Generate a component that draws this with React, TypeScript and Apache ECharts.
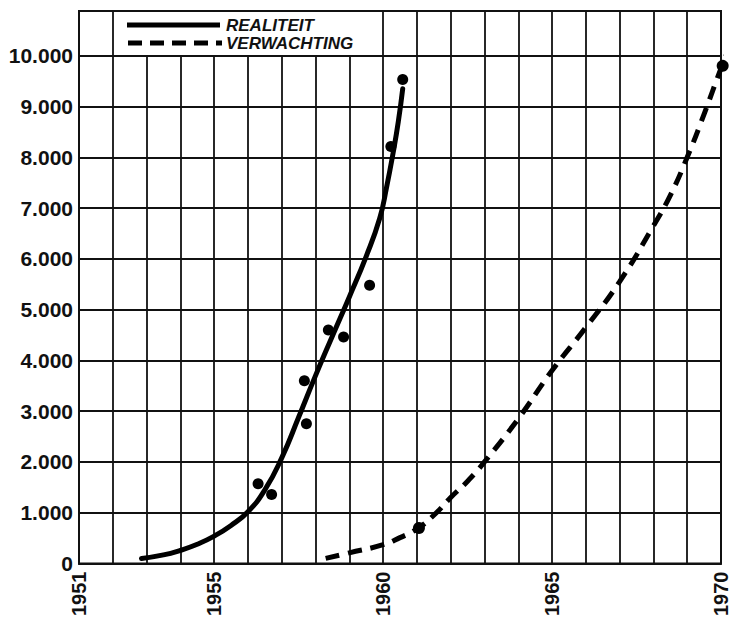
import React, { useEffect, useRef } from "react";
import * as echarts from "echarts";

// Realiteit (smoothed curve)
const realYears = [1952.85, 1953.5, 1954, 1954.5, 1955, 1955.5, 1956, 1956.5, 1957, 1957.5, 1958, 1958.5, 1959, 1959.5, 1959.9, 1960.1, 1960.3, 1960.45, 1960.58];
const realValues = [100, 170, 260, 380, 540, 750, 1020, 1450, 2080, 2880, 3700, 4480, 5250, 6050, 6800, 7400, 8100, 8700, 9350];

// Realiteit observed points
const realDotYears = [1956.3, 1956.7, 1957.67, 1957.73, 1958.38, 1958.83, 1959.6, 1960.23, 1960.58];
const realDotValues = [1570, 1360, 3600, 2750, 4600, 4460, 5480, 8210, 9530];

// Verwachting (expected, dashed curve)
const expYears = [1958.3, 1959, 1960, 1960.5, 1961, 1961.5, 1962, 1962.5, 1963, 1964, 1965, 1966, 1967, 1968, 1968.5, 1969, 1969.5, 1970, 1970.35];
const expValues = [100, 210, 370, 510, 680, 950, 1300, 1620, 2000, 2850, 3800, 4650, 5550, 6650, 7250, 8000, 8850, 9750, 10330];

const expDotYears = [1961.06, 1970.05];
const expDotValues = [700, 9800];

const xTickLabels = [1951, 1955, 1960, 1965, 1970];
const yTickLabels = ["0", "1.000", "2.000", "3.000", "4.000", "5.000", "6.000", "7.000", "8.000", "9.000", "10.000"];
const legendNames = ["REALITEIT", "VERWACHTING"];

const FONT = '"Liberation Sans", Arial, sans-serif';

const pairs = (xs: number[], ys: number[]) => xs.map((x, i) => [x, ys[i]]);

export default function App() {
  const ref = useRef<HTMLDivElement>(null);
  useEffect(() => {
    if (!ref.current) return;
    const chart = echarts.init(ref.current, undefined, { renderer: "svg" });
    const legendText = {
      fill: "#111",
      fontFamily: FONT,
      fontSize: 17,
      fontStyle: "italic",
      fontWeight: "bold",
      verticalAlign: "middle",
      align: "left",
    };
    chart.setOption({
      animation: false,
      backgroundColor: "#fff",
      grid: {
        left: 79,
        right: 10,
        top: 11,
        bottom: 53,
        show: true,
        borderColor: "#111",
        borderWidth: 2,
        backgroundColor: "transparent",
      },
      graphic: [
        {
          type: "rect",
          z: 1,
          shape: { x: 115, y: 12, width: 266, height: 43 },
          style: { fill: "#fff" },
        },
        {
          type: "line",
          z: 5,
          shape: { x1: 127, y1: 25, x2: 220, y2: 25 },
          style: { stroke: "#000", lineWidth: 5 },
        },
        {
          type: "line",
          z: 5,
          shape: { x1: 128, y1: 43, x2: 222, y2: 43 },
          style: { stroke: "#000", lineWidth: 5, lineDash: [14, 8] },
        },
        {
          type: "text",
          z: 5,
          x: 226,
          y: 25,
          style: { ...legendText, text: legendNames[0] },
        },
        {
          type: "text",
          z: 5,
          x: 226,
          y: 43,
          style: { ...legendText, text: legendNames[1] },
        },
      ],
      xAxis: {
        type: "value",
        min: 1951,
        max: 1970,
        interval: 1,
        axisLine: { show: true, lineStyle: { color: "#111", width: 2 } },
        axisTick: { show: false },
        splitLine: { show: true, lineStyle: { color: "#111", width: 1.8 } },
        axisLabel: {
          rotate: 90,
          margin: 8,
          fontFamily: FONT,
          fontSize: 20,
          fontWeight: "bold",
          color: "#111",
          showMinLabel: true,
          showMaxLabel: true,
          formatter: (v: number) =>
            xTickLabels.includes(Math.round(v)) && Math.abs(v - Math.round(v)) < 1e-6 ? String(Math.round(v)) : "",
        },
      },
      yAxis: {
        type: "value",
        min: 0,
        max: 10880,
        interval: 1000,
        axisLine: { show: true, lineStyle: { color: "#111", width: 2 } },
        axisTick: { show: false },
        splitLine: { show: true, lineStyle: { color: "#111", width: 1.8 } },
        axisLabel: {
          margin: 6,
          fontFamily: FONT,
          fontSize: 21,
          fontWeight: "bold",
          color: "#111",
          formatter: (v: number) => {
            if (v % 1000 !== 0) return "";
            return yTickLabels[v / 1000] ?? "";
          },
        },
      },
      series: [
        {
          name: legendNames[0],
          type: "line",
          data: pairs(realYears, realValues),
          smooth: 0.5,
          symbol: "none",
          lineStyle: { color: "#000", width: 5, cap: "round" },
          itemStyle: { color: "#000" },
          z: 3,
        },
        {
          name: legendNames[1],
          type: "line",
          data: pairs(expYears, expValues),
          smooth: 0.5,
          symbol: "none",
          clip: false,
          lineStyle: { color: "#000", width: 5, type: [14, 9] },
          itemStyle: { color: "#000" },
          z: 3,
        },
        {
          name: "realiteit-punten",
          type: "scatter",
          data: pairs(realDotYears, realDotValues),
          symbolSize: 11,
          itemStyle: { color: "#000", opacity: 1 },
          z: 4,
        },
        {
          name: "verwachting-punten",
          type: "scatter",
          data: pairs(expDotYears, expDotValues),
          symbolSize: 12,
          clip: false,
          itemStyle: { color: "#000", opacity: 1 },
          z: 4,
        },
      ],
    });
    return () => chart.dispose();
  }, []);
  return (
    <div
      ref={ref}
      style={{ position: "fixed", left: 0, top: 0, width: 731, height: 619, background: "#fff" }}
    />
  );
}
